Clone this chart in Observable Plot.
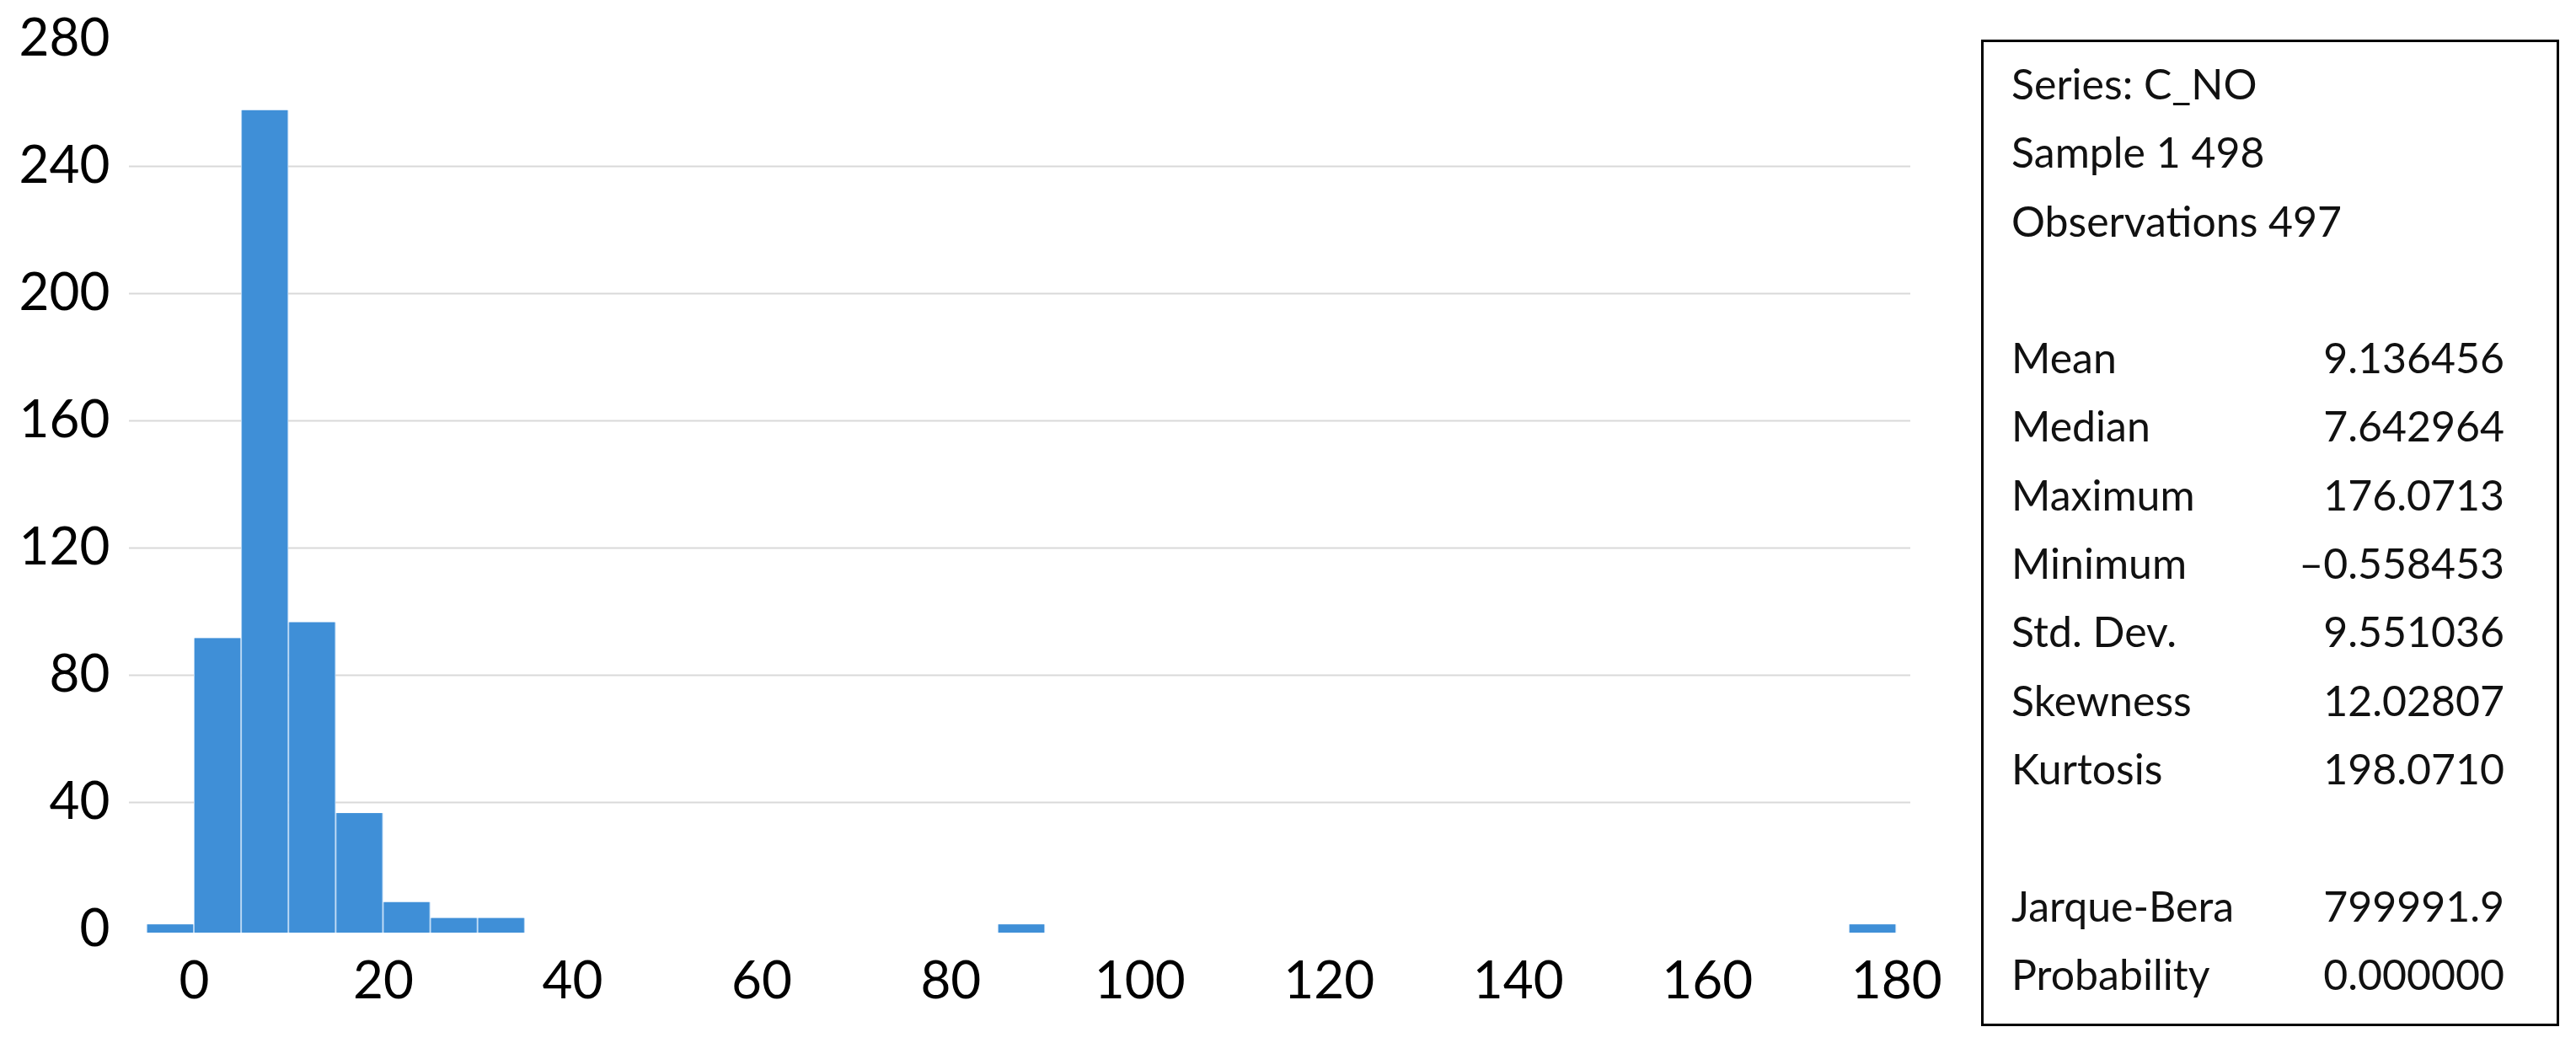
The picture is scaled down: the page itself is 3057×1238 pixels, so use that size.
<!DOCTYPE html>
<html><head><meta charset="utf-8">
<script src="https://cdn.jsdelivr.net/npm/d3@7"></script>
<script src="https://cdn.jsdelivr.net/npm/@observablehq/plot@0.6"></script>
<style>
body{margin:0;background:#fff;font-family:Lato,sans-serif;}
#wrap{position:relative;width:3057px;height:1238px;}
#chart{position:absolute;left:0;top:0;}
#panel{position:absolute;left:2351px;top:47px;width:686px;height:1171px;box-sizing:border-box;border:3px solid #000;padding:9px 62px 0 33px;font-size:50px;line-height:81.3px;color:#111;}
.row{display:flex;justify-content:space-between;height:81.3px;white-space:nowrap;}
</style></head>
<body><div id="wrap"><div id="chart"></div><div id="panel"></div></div>
<script>
// Histogram bins (width 5) and counts
const binStart = [-5, 0, 5, 10, 15, 20, 25, 30, 85, 175];
const binEnd   = [0, 5, 10, 15, 20, 25, 30, 35, 90, 180];
const counts   = [1, 91, 257, 96, 36, 8, 3, 3, 1, 1];
const xTicks = [0, 20, 40, 60, 80, 100, 120, 140, 160, 180];
const yTicks = [0, 40, 80, 120, 160, 200, 240, 280];
const gridValues = [40, 80, 120, 160, 200, 240];
// Statistics panel
const headerLines = ["Series: C_NO", "Sample 1 498", "Observations 497"];
const statNames  = ["Mean", "Median", "Maximum", "Minimum", "Std. Dev.", "Skewness", "Kurtosis"];
const statValues = ["9.136456", "7.642964", "176.0713", "\u20130.558453", "9.551036", "12.02807", "198.0710"];
const testNames  = ["Jarque-Bera", "Probability"];
const testValues = ["799991.9", "0.000000"];

const bins = binStart.map((s, i) => ({x1: s, x2: binEnd[i], count: counts[i]}));

const chart = Plot.plot({
  width: 2345,
  height: 1238,
  marginLeft: 153,
  marginRight: 78,
  marginTop: 46,
  marginBottom: 135,
  style: {fontFamily: "Lato, sans-serif", fontSize: "62px", color: "#000", background: "transparent", overflow: "visible"},
  x: {domain: [-6.86, 181.5], axis: null},
  y: {domain: [0, 280], axis: null},
  marks: [
    Plot.ruleY(gridValues, {stroke: "#d9d9d9", strokeWidth: 2}),
    Plot.rectY(bins, {x1: "x1", x2: "x2", y: "count", fill: "#b3d4f3", insetBottom: -4, insetTop: -2}),
    Plot.rectY(bins, {x1: "x1", x2: "x2", y: "count", fill: "#3f8fd7", insetLeft: 1, insetRight: 1, insetBottom: -4, insetTop: -2}),
    Plot.axisX(xTicks, {tickSize: 0, tickPadding: 37, label: null, fill: "#000"}),
    Plot.axisY(yTicks, {tickSize: 0, tickPadding: 23, label: null, fill: "#000"})
  ]
});
document.getElementById("chart").appendChild(chart);

const panel = document.getElementById("panel");
function addRow(left, right) {
  const r = document.createElement("div");
  r.className = "row";
  const a = document.createElement("span"); a.textContent = left;
  const b = document.createElement("span"); b.textContent = right || "";
  r.appendChild(a); r.appendChild(b);
  panel.appendChild(r);
}
headerLines.forEach(t => addRow(t, ""));
addRow("", "");
statNames.forEach((n, i) => addRow(n, statValues[i]));
addRow("", "");
testNames.forEach((n, i) => addRow(n, testValues[i]));
</script>
</body></html>
